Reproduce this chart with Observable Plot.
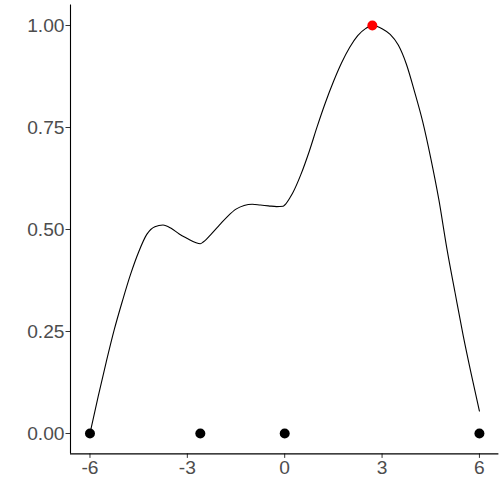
<!DOCTYPE html>
<html>
<head>
<meta charset="utf-8">
<script src="https://cdn.jsdelivr.net/npm/d3@7"></script>
<script src="https://cdn.jsdelivr.net/npm/@observablehq/plot@0.6"></script>
<style>
  html, body { margin: 0; padding: 0; background: #ffffff; }
  #chart svg { display: block; }
</style>
</head>
<body>
<div id="chart"></div>
<script>
// Curve
const curveX = [-6.0, -5.75, -5.5, -5.25, -5.0, -4.75, -4.5, -4.25, -4.0, -3.75, -3.5, -3.25, -3.0, -2.75, -2.6, -2.5, -2.25, -2.0, -1.75, -1.5, -1.25, -1.0, -0.75, -0.5, -0.25, -0.05, 0.0, 0.17, 0.25, 0.5, 0.75, 1.0, 1.25, 1.5, 1.75, 2.0, 2.25, 2.5, 2.7, 3.0, 3.25, 3.5, 3.75, 4.0, 4.25, 4.5, 4.75, 5.0, 5.25, 5.5, 5.75, 6.0];
const curveY = [0.00, 0.09, 0.175, 0.255, 0.325, 0.39, 0.445, 0.488, 0.507, 0.511, 0.503, 0.489, 0.478, 0.468, 0.465, 0.470, 0.490, 0.512, 0.533, 0.550, 0.559, 0.562, 0.560, 0.558, 0.556, 0.557, 0.560, 0.579, 0.590, 0.635, 0.690, 0.752, 0.810, 0.862, 0.908, 0.946, 0.975, 0.993, 1.000, 0.992, 0.978, 0.952, 0.905, 0.838, 0.765, 0.675, 0.573, 0.452, 0.345, 0.240, 0.145, 0.055];

// Points
const pointX = [-6, -2.6, 0, 6];
const pointY = [0, 0, 0, 0];
const maxX = [2.7];
const maxY = [1.0];

// Ticks
const xTicks = [-6, -3, 0, 3, 6];
const yTicks = [0, 0.25, 0.5, 0.75, 1.0];
const xDomain = [-6.6, 6.6];
const yDomain = [-0.05, 1.05];

const curve = curveX.map((x, i) => ({x, y: curveY[i]}));
const pts = pointX.map((x, i) => ({x, y: pointY[i]}));
const maxPt = maxX.map((x, i) => ({x, y: maxY[i]}));

const chart = Plot.plot({
  width: 504,
  height: 504,
  marginLeft: 70,
  marginRight: 5.6,
  marginTop: 4.6,
  marginBottom: 50.6,
  style: {fontFamily: "'Liberation Sans', Arial, Helvetica, sans-serif", background: "#ffffff"},
  x: {domain: xDomain},
  y: {domain: yDomain},
  marks: [
    Plot.axisX({ticks: xTicks, tickFormat: d => `${d}`, tickSize: 4.5, tickPadding: 2.3, fontSize: 19.2, stroke: "#333333", color: "#4d4d4d", label: null}),
    Plot.axisY({ticks: yTicks, tickFormat: d3.format(".2f"), tickSize: 4.5, tickPadding: 1.5, fontSize: 19.2, stroke: "#333333", color: "#4d4d4d", label: null}),
    Plot.ruleX([xDomain[0]], {stroke: "#000000", strokeWidth: 1.1}),
    Plot.ruleY([yDomain[0]], {stroke: "#000000", strokeWidth: 1.1}),
    Plot.line(curve, {x: "x", y: "y", stroke: "#000000", strokeWidth: 1.1, curve: "monotone-x"}),
    Plot.dot(pts, {x: "x", y: "y", r: 5, fill: "#000000", stroke: "none"}),
    Plot.dot(maxPt, {x: "x", y: "y", r: 5, fill: "#ff0000", stroke: "none"})
  ]
});
document.getElementById("chart").appendChild(chart);
</script>
</body>
</html>
